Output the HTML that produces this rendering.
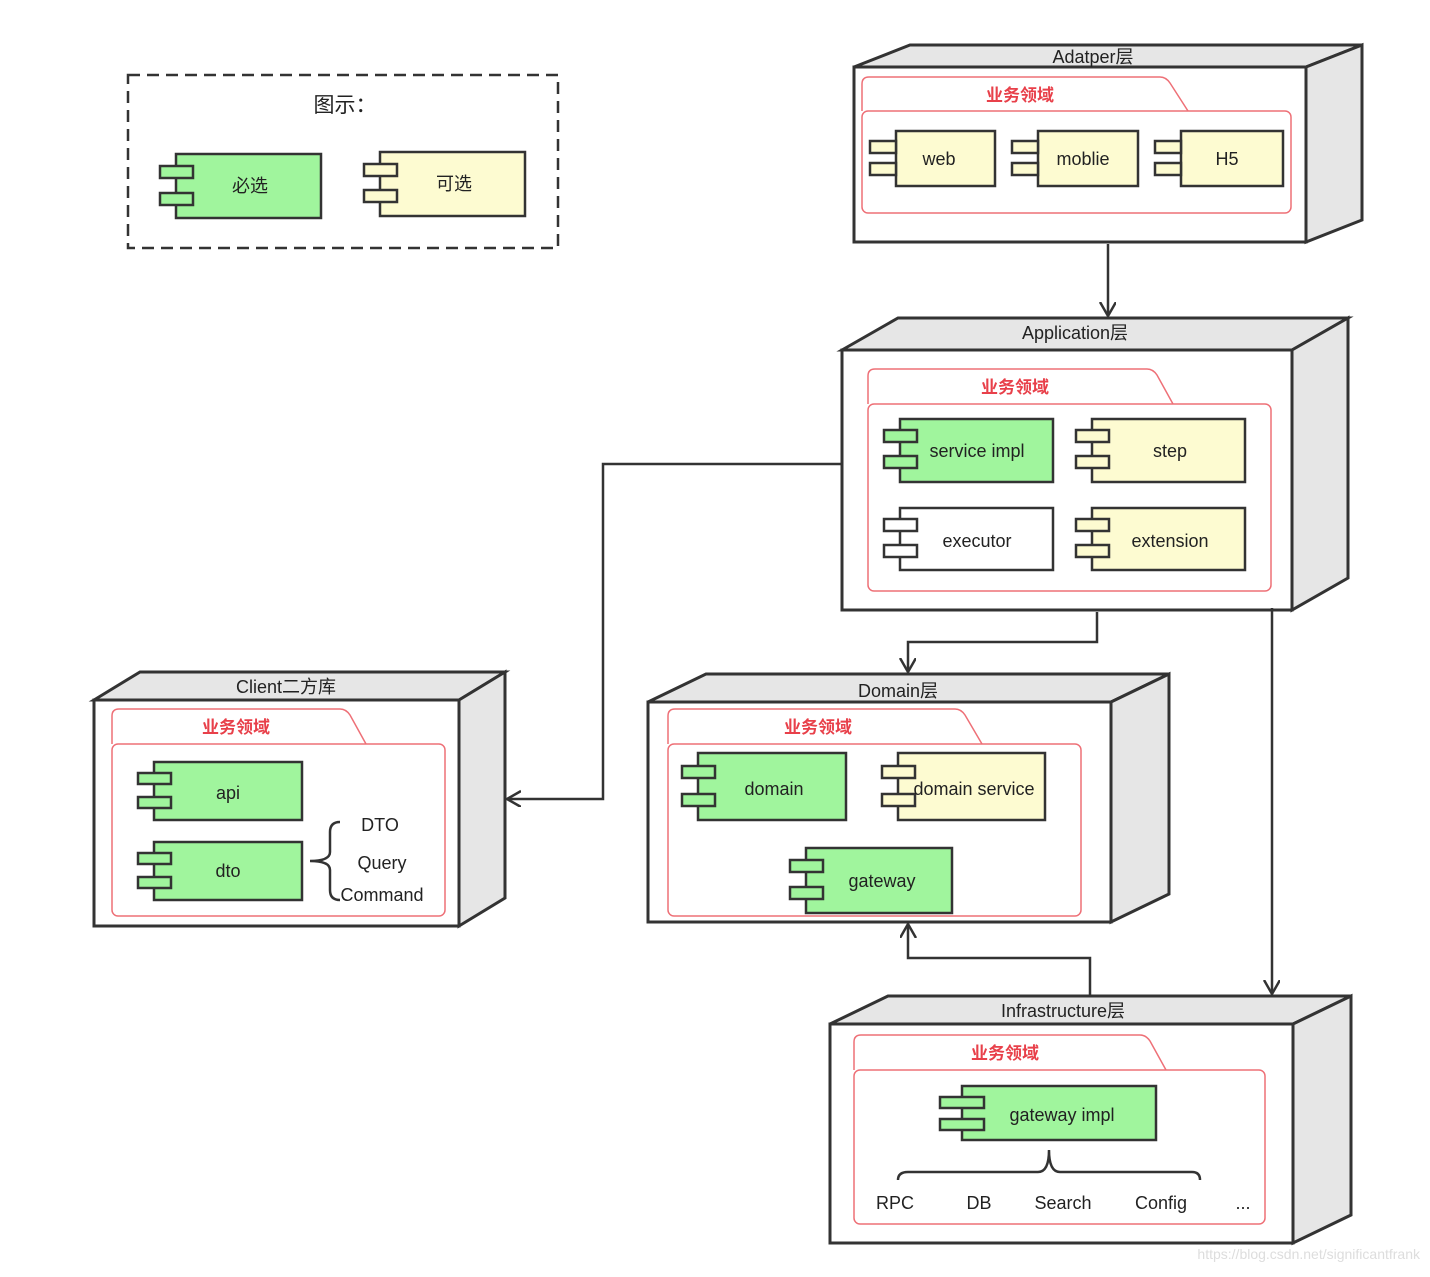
<!DOCTYPE html>
<html><head><meta charset="utf-8"><style>
body{margin:0;background:#fff}
svg text{font-family:"Liberation Sans","Noto Sans CJK SC",sans-serif;fill:#222}
.t{font-size:18px;text-anchor:middle}
.h{font-size:18px;text-anchor:middle}
.r{font-size:17px;text-anchor:middle;fill:#e8404a !important;font-weight:bold}
</style></head><body>
<svg width="1430" height="1272" xmlns="http://www.w3.org/2000/svg">
<defs>
<marker id="a" markerWidth="20" markerHeight="20" refX="14" refY="8" orient="auto" markerUnits="userSpaceOnUse"><path d="M0,0 L14,8 L0,16" fill="none" stroke="#333" stroke-width="2.5"/></marker>
</defs>
<g stroke="#333" stroke-width="3" stroke-linejoin="miter">
<rect x="128" y="75" width="430" height="173" fill="none" stroke-dasharray="12,7" stroke-width="2.5"/>

<polygon points="854,67 910,45 1362,45 1306,67" fill="#e6e6e6"/>
<polygon points="1306,67 1362,45 1362,220 1306,242" fill="#e6e6e6"/>
<rect x="854" y="67" width="452" height="175" fill="#fff"/>
<polygon points="842,350 898,318 1348,318 1292,350" fill="#e6e6e6"/>
<polygon points="1292,350 1348,318 1348,578 1292,610" fill="#e6e6e6"/>
<rect x="842" y="350" width="450" height="260" fill="#fff"/>
<polygon points="94,700 140,672 505,672 459,700" fill="#e6e6e6"/>
<polygon points="459,700 505,672 505,898 459,926" fill="#e6e6e6"/>
<rect x="94" y="700" width="365" height="226" fill="#fff"/>
<polygon points="648,702 706,674 1169,674 1111,702" fill="#e6e6e6"/>
<polygon points="1111,702 1169,674 1169,894 1111,922" fill="#e6e6e6"/>
<rect x="648" y="702" width="463" height="220" fill="#fff"/>
<polygon points="830,1024 888,996 1351,996 1293,1024" fill="#e6e6e6"/>
<polygon points="1293,1024 1351,996 1351,1215 1293,1243" fill="#e6e6e6"/>
<rect x="830" y="1024" width="463" height="219" fill="#fff"/>
</g>

<g stroke="#ee7077" stroke-width="1.5" fill="none">
<path d="M862,111 V84 Q862,77 869,77 H1160 Q1166,77 1170,83 L1188,111"/><rect x="862" y="111" width="429" height="102" rx="6"/>
<path d="M868,404 V376 Q868,369 875,369 H1147 Q1153,369 1157,375 L1173,404"/><rect x="868" y="404" width="403" height="187" rx="6"/>
<path d="M112,744 V716 Q112,709 119,709 H340 Q346,709 350,715 L366,744"/><rect x="112" y="744" width="333" height="172" rx="6"/>
<path d="M668,744 V716 Q668,709 675,709 H955 Q961,709 965,715 L982,744"/><rect x="668" y="744" width="413" height="172" rx="6"/>
<path d="M854,1070 V1042 Q854,1035 861,1035 H1140 Q1146,1035 1150,1041 L1166,1070"/><rect x="854" y="1070" width="411" height="154" rx="6"/>
</g>

<g stroke="#333" stroke-width="2.5">
<g fill="#a0f59d"><rect x="176" y="154" width="145" height="64"/><rect x="160" y="166" width="33" height="12"/><rect x="160" y="193" width="33" height="12"/></g>
<g fill="#fdfbd1"><rect x="380" y="152" width="145" height="64"/><rect x="364" y="164" width="33" height="12"/><rect x="364" y="190" width="33" height="12"/></g>

<g fill="#fdfbd1">
<rect x="896" y="131" width="99" height="55"/><rect x="870" y="141" width="26" height="12"/><rect x="870" y="163" width="26" height="12"/>
<rect x="1038" y="131" width="100" height="55"/><rect x="1012" y="141" width="26" height="12"/><rect x="1012" y="163" width="26" height="12"/>
<rect x="1181" y="131" width="102" height="55"/><rect x="1155" y="141" width="26" height="12"/><rect x="1155" y="163" width="26" height="12"/>
</g>
<g fill="#a0f59d"><rect x="900" y="419" width="153" height="63"/><rect x="884" y="430" width="33" height="12"/><rect x="884" y="456" width="33" height="12"/></g>
<g fill="#fdfbd1"><rect x="1092" y="419" width="153" height="63"/><rect x="1076" y="430" width="33" height="12"/><rect x="1076" y="456" width="33" height="12"/></g>
<g fill="#fff"><rect x="900" y="508" width="153" height="62"/><rect x="884" y="519" width="33" height="12"/><rect x="884" y="545" width="33" height="12"/></g>
<g fill="#fdfbd1"><rect x="1092" y="508" width="153" height="62"/><rect x="1076" y="519" width="33" height="12"/><rect x="1076" y="545" width="33" height="12"/></g>

<g fill="#a0f59d">
<rect x="154" y="762" width="148" height="58"/><rect x="138" y="773" width="33" height="11"/><rect x="138" y="797" width="33" height="11"/>
<rect x="154" y="842" width="148" height="58"/><rect x="138" y="853" width="33" height="11"/><rect x="138" y="877" width="33" height="11"/>
<rect x="698" y="753" width="148" height="67"/><rect x="682" y="766" width="33" height="12"/><rect x="682" y="794" width="33" height="12"/>
<rect x="806" y="848" width="146" height="65"/><rect x="790" y="860" width="33" height="12"/><rect x="790" y="887" width="33" height="12"/>
<rect x="962" y="1086" width="194" height="54"/><rect x="940" y="1097" width="44" height="11"/><rect x="940" y="1119" width="44" height="11"/>
</g>
<g fill="#fdfbd1"><rect x="898" y="753" width="147" height="67"/><rect x="882" y="766" width="33" height="12"/><rect x="882" y="794" width="33" height="12"/></g>
</g>

<g stroke="#333" stroke-width="2.5" fill="none">
<path d="M340,822 Q330,822 330,832 V852 Q330,861 310,861 Q330,861 330,870 V890 Q330,900 340,900"/>
<path d="M898,1180 Q898,1172 908,1172 H1038 Q1049,1172 1049,1150 Q1049,1172 1060,1172 H1192 Q1200,1172 1200,1180"/>
</g>

<g stroke="#333" stroke-width="2.5" fill="none" marker-end="url(#a)">
<path d="M1108,244 V316"/>
<path d="M842,464 H603 V799 H507"/>
<path d="M1097,612 V642 H908 V672"/>
<path d="M1272,608 V994"/>
<path d="M1090,996 V958 H908 V924"/>
</g>

<text x="345" y="112" class="t" style="font-size:21px">图示：</text>
<text x="250" y="192" class="t">必选</text>
<text x="454" y="190" class="t">可选</text>
<text x="1093" y="63" class="h">Adatper层</text>
<text x="1020" y="101" class="r">业务领域</text>
<text x="939" y="165" class="t">web</text>
<text x="1083" y="165" class="t">moblie</text>
<text x="1227" y="165" class="t">H5</text>
<text x="1075" y="339" class="h">Application层</text>
<text x="1015" y="393" class="r">业务领域</text>
<text x="977" y="457" class="t">service impl</text>
<text x="1170" y="457" class="t">step</text>
<text x="977" y="547" class="t">executor</text>
<text x="1170" y="547" class="t">extension</text>
<text x="286" y="693" class="h">Client二方库</text>
<text x="236" y="733" class="r">业务领域</text>
<text x="228" y="799" class="t">api</text>
<text x="228" y="877" class="t">dto</text>
<text x="380" y="831" class="t">DTO</text>
<text x="382" y="869" class="t">Query</text>
<text x="382" y="901" class="t">Command</text>
<text x="898" y="697" class="h">Domain层</text>
<text x="818" y="733" class="r">业务领域</text>
<text x="774" y="795" class="t">domain</text>
<text x="974" y="795" class="t">domain service</text>
<text x="882" y="887" class="t">gateway</text>
<text x="1063" y="1017" class="h">Infrastructure层</text>
<text x="1005" y="1059" class="r">业务领域</text>
<text x="1062" y="1121" class="t">gateway impl</text>
<text x="895" y="1209" class="t">RPC</text>
<text x="979" y="1209" class="t">DB</text>
<text x="1063" y="1209" class="t">Search</text>
<text x="1161" y="1209" class="t">Config</text>
<text x="1243" y="1209" class="t">...</text>
<text x="1420" y="1259" style="font-size:14px;text-anchor:end;fill:#ddd">https://blog.csdn.net/significantfrank</text>
</svg>
</body></html>
